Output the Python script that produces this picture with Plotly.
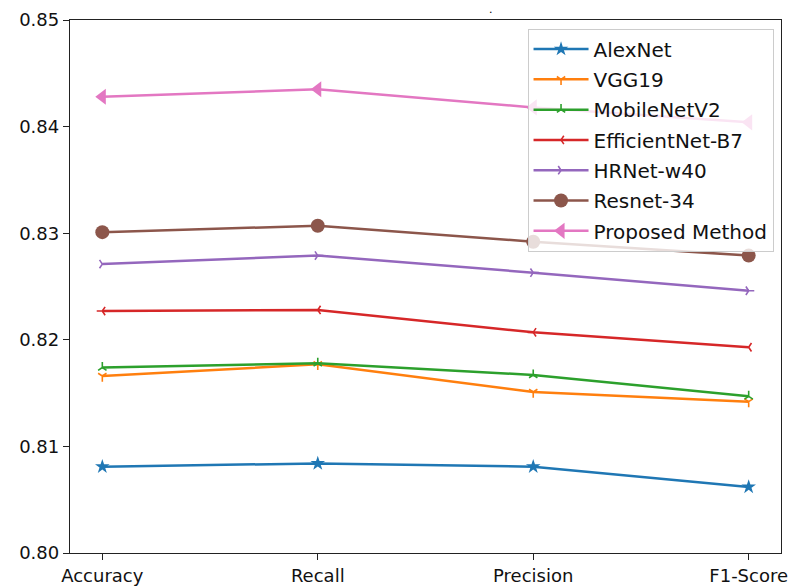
import plotly.graph_objects as go

metrics = ["Accuracy", "Recall", "Precision", "F1-Score"]
alexnet = [0.8081, 0.8084, 0.8081, 0.8062]
vgg19 = [0.8166, 0.8177, 0.8151, 0.8142]
mobilenetv2 = [0.8174, 0.8178, 0.8167, 0.8147]
efficientnet_b7 = [0.8227, 0.8228, 0.8207, 0.8193]
hrnet_w40 = [0.8271, 0.8279, 0.8263, 0.8246]
resnet34 = [0.8301, 0.8307, 0.8292, 0.8279]
proposed = [0.8428, 0.8435, 0.8418, 0.8404]

series = [
    ("AlexNet", alexnet, "#1f77b4", "star", 11, 0),
    ("VGG19", vgg19, "#ff7f0e", "y-down", 7, 1.6),
    ("MobileNetV2", mobilenetv2, "#2ca02c", "y-up", 7, 1.6),
    ("EfficientNet-B7", efficientnet_b7, "#d62728", "y-left", 7, 1.6),
    ("HRNet-w40", hrnet_w40, "#9467bd", "y-right", 7, 1.6),
    ("Resnet-34", resnet34, "#8c564b", "circle", 14, 0),
    ("Proposed Method", proposed, "#e377c2", "triangle-left", 14, 0),
]

fig = go.Figure()
for i, (name, vals, color, sym, size, lw) in enumerate(series):
    fig.add_trace(go.Scatter(
        x=list(range(len(metrics))), y=vals, name=name, mode="lines+markers",
        line=dict(color=color, width=2.5),
        marker=dict(symbol=sym, size=size, color=color,
                    line=dict(color=color, width=lw)),
        legendgroup=f"g{i}",
    ))

axis_common = dict(showline=True, linecolor="#222222", linewidth=1.3, mirror=True,
                   ticks="outside", ticklen=6, tickwidth=1.2, tickcolor="#222222",
                   showgrid=False, zeroline=False, automargin=False,
                   tickfont=dict(family="DejaVu Sans", size=18, color="#111111"))

fig.update_layout(
    width=793, height=588,
    margin=dict(l=70, r=12, t=20, b=35),
    paper_bgcolor="white", plot_bgcolor="white",
    showlegend=True,
    legend=dict(x=0.9895, y=0.984, xanchor="right", yanchor="top",
                bgcolor="rgba(255,255,255,0.8)", bordercolor="#cccccc", borderwidth=1,
                font=dict(family="DejaVu Sans", size=20, color="#111111"),
                tracegroupgap=1.3, traceorder="grouped", itemwidth=55),
    xaxis=dict(tickmode="array", tickvals=list(range(len(metrics))), ticktext=metrics,
               range=[-0.15, 3.15], **axis_common),
    yaxis=dict(range=[0.80, 0.85], dtick=0.01, tickformat=".2f", **axis_common),
    annotations=[dict(text=".", xref="paper", yref="paper",
                      x=(491 - 70) / 711, y=(552.5 - 0.5) / 533, yanchor="top",
                      showarrow=False, font=dict(family="DejaVu Sans", size=11, color="black"))],
)

# remove the default body margin so the figure fills the window exactly
fig.write_html("out.html", config={"displayModeBar": False},
               post_script="document.body.style.margin='0';")
